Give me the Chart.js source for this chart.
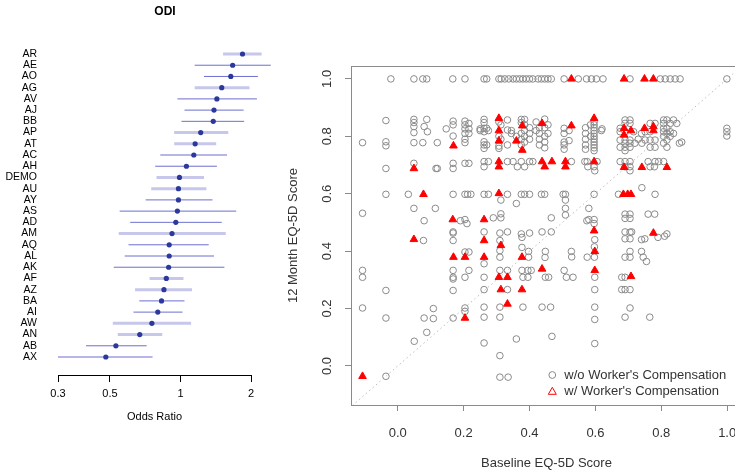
<!DOCTYPE html>
<html><head><meta charset="utf-8">
<script src="https://cdn.jsdelivr.net/npm/chart.js@4"></script>
<style>
html,body{margin:0;padding:0;background:#fff;overflow:hidden;width:735px;height:472px;position:relative;}
#left{position:absolute;left:0;top:0;width:300px;height:472px;}
#right{position:absolute;left:270px;top:0;width:490px;height:472px;}
</style></head><body>
<canvas id="left" width="300" height="472"></canvas>
<canvas id="right" width="490" height="472"></canvas>
<script>
// ---------- Forest plot data (ODI) ----------
const odiLabels = ['AR','AE','AO','AG','AV','AJ','BB','AP','AT','AC','AH','DEMO','AU','AY','AS','AD','AM','AQ','AL','AK','AF','AZ','BA','AI','AW','AN','AB','AX'];
const odiEstimate = [1.84,1.67,1.64,1.50,1.43,1.39,1.38,1.22,1.155,1.14,1.06,0.99,0.98,0.98,0.97,0.955,0.92,0.895,0.895,0.89,0.87,0.85,0.83,0.80,0.755,0.67,0.53,0.48];
const odiLower = [1.52,1.15,1.26,1.15,0.97,1.04,1.01,0.94,0.94,0.82,0.78,0.79,0.75,0.71,0.55,0.61,0.545,0.60,0.578,0.519,0.738,0.64,0.667,0.63,0.514,0.54,0.395,0.30];
const odiUpper = [2.22,2.43,2.14,1.97,2.12,1.86,1.87,1.60,1.42,1.58,1.43,1.26,1.29,1.37,1.73,1.50,1.56,1.32,1.39,1.54,1.03,1.12,1.04,1.02,1.11,0.836,0.717,0.76];
const odiGroup = [1,0,0,1,0,0,0,1,1,0,0,1,1,0,0,0,1,0,0,0,1,1,0,0,1,1,0,0];
const oddsTicks = [0.3,0.5,1,2];

// ---------- Scatter data (Baseline vs 12 month EQ-5D) ----------
const eqTicks = [0,0.2,0.4,0.6,0.8,1.0];
const woComp = [
[-0.021,1],[0.049,1],[0.076,1],[0.088,1],[0.167,1],[0.204,1],
[-0.036,0.855],[0.049,0.859],[0.049,0.848],[0.049,0.834],[0.049,0.813],[0.088,0.859],[0.080,0.834],[0.090,0.816],[0.147,0.826],[0.168,0.853],[0.168,0.840],[0.168,0.801],[0.204,0.853],[0.204,0.840],[0.204,0.826],[0.204,0.81],[0.204,0.79],[0.216,0.845],[0.216,0.826],[0.216,0.81],[0.25,0.826],
[-0.107,0.778],[-0.036,0.781],[-0.036,0.767],[0.049,0.778],[0.076,0.778],[0.12,0.778],[0.204,0.778],
[-0.036,0.688],[0.049,0.706],[0.116,0.688],[0.12,0.688],[0.168,0.706],[0.168,0.688],[0.204,0.706],[0.216,0.706],
[-0.036,0.598],[0.032,0.598],[0.168,0.598],[0.204,0.598],[0.212,0.598],[0.222,0.598],
[-0.107,0.532],[0.049,0.549],[0.114,0.549],[0.08,0.506],[0.19,0.506],[0.204,0.51],[0.21,0.496],[0.168,0.467],
[0.078,0.437],[0.168,0.463],[0.168,0.437],[0.204,0.397],[0.216,0.397],
[-0.107,0.333],[-0.107,0.309],[0.168,0.333],[0.168,0.309],[0.168,0.303],[0.168,0.263],[0.204,0.309],[0.216,0.333],
[-0.036,0.263],[-0.107,0.202],[-0.036,0.167],[0.08,0.167],[0.108,0.165],[0.108,0.2],[0.168,0.167],[0.204,0.202],[0.204,0.19],[0.088,0.117],[0.05,0.086],[-0.036,-0.036],
[0.262,1],[0.27,1],[0.307,1],[0.314,1],[0.325,1],[0.337,1],[0.35,1],[0.36,1],[0.37,1],[0.38,1],[0.39,1],[0.40,1],[0.41,1],[0.426,1],[0.436,1],[0.446,1],[0.456,1],[0.466,1],[0.505,1],[0.548,1],[0.573,1],[0.588,1],[0.603,1],[0.623,1],
[0.705,1],[0.797,1],[0.812,1],[0.827,1],[0.842,1],[0.857,1],[0.999,1],
[0.262,0.859],[0.262,0.848],[0.262,0.828],[0.262,0.816],[0.262,0.781],[0.262,0.77],[0.262,0.758],[0.27,0.828],[0.27,0.77],[0.25,0.82],[0.275,0.82],
[0.307,0.85],[0.307,0.80],[0.307,0.766],[0.307,0.758],[0.313,0.84],[0.313,0.79],[0.333,0.857],[0.333,0.822],[0.333,0.77],[0.345,0.82],[0.345,0.81],[0.36,0.80],
[0.375,0.859],[0.375,0.848],[0.375,0.81],[0.375,0.79],[0.375,0.77],[0.385,0.859],[0.385,0.84],[0.385,0.82],[0.385,0.80],[0.385,0.78],[0.40,0.83],[0.40,0.81],[0.40,0.79],
[0.42,0.85],[0.42,0.82],[0.43,0.83],[0.43,0.81],[0.43,0.79],[0.43,0.77],[0.446,0.86],[0.446,0.83],[0.446,0.80],[0.446,0.78],[0.446,0.76],[0.456,0.84],[0.456,0.81],
[0.505,0.828],[0.505,0.81],[0.505,0.78],[0.505,0.77],[0.505,0.755],[0.52,0.82],[0.52,0.785],
[0.57,0.83],[0.57,0.81],[0.57,0.79],[0.57,0.77],[0.57,0.755],[0.585,0.84],[0.585,0.80],
[0.596,0.85],[0.596,0.84],[0.596,0.83],[0.596,0.82],[0.596,0.81],[0.596,0.80],[0.596,0.79],[0.596,0.78],[0.596,0.77],[0.596,0.76],[0.596,0.75],[0.618,0.82],[0.62,0.826],
[0.262,0.712],[0.275,0.712],[0.262,0.694],[0.333,0.712],[0.35,0.712],[0.363,0.694],[0.375,0.712],[0.385,0.694],[0.40,0.712],[0.41,0.712],[0.527,0.712],[0.568,0.712],[0.575,0.712],[0.596,0.694],[0.605,0.712],[0.577,0.694],[0.598,0.68],
[0.262,0.598],[0.275,0.598],[0.333,0.598],[0.375,0.598],[0.385,0.598],[0.40,0.598],[0.436,0.598],[0.446,0.598],[0.502,0.598],[0.509,0.598],[0.596,0.598],[0.67,0.598],[0.781,0.598],[0.741,0.621],
[0.313,0.578],[0.36,0.566],[0.509,0.578],[0.509,0.549],[0.509,0.526],[0.58,0.549],[0.313,0.53],[0.313,0.516],[0.29,0.516],[0.466,0.516],[0.58,0.51],[0.596,0.51],[0.596,0.496],[0.574,0.506],
[0.262,0.467],[0.333,0.467],[0.375,0.46],[0.40,0.463],[0.438,0.467],[0.466,0.467],[0.31,0.463],
[0.262,0.356],[0.262,0.309],[0.262,0.266],[0.262,0.205],[0.262,0.17],
[0.31,0.437],[0.31,0.402],[0.31,0.379],[0.31,0.333],[0.31,0.205],[0.31,0.17],[0.333,0.333],[0.333,0.266],
[0.377,0.448],[0.377,0.413],[0.397,0.399],[0.397,0.379],[0.377,0.333],[0.395,0.333],[0.405,0.333],[0.38,0.309],[0.395,0.309],
[0.448,0.399],[0.447,0.378],[0.527,0.399],[0.528,0.38],[0.575,0.379],[0.448,0.309],[0.458,0.309],[0.505,0.333],[0.512,0.309],[0.532,0.309],
[0.38,0.205],[0.438,0.205],[0.464,0.205],
[0.598,0.44],[0.597,0.415],[0.597,0.379],[0.598,0.309],[0.598,0.266],[0.598,0.205],[0.598,0.162],[0.598,0.078],
[0.262,0.08],[0.36,0.094],[0.468,0.103],[0.31,0.036],[0.31,-0.039],[0.335,-0.039],
[0.705,0.466],[0.69,0.443],[0.705,0.443],[0.74,0.44],[0.75,0.443],[0.79,0.448],[0.81,0.452],[0.69,0.379],[0.705,0.379],[0.705,0.399],[0.74,0.399],[0.745,0.379],[0.755,0.364],
[0.68,0.309],[0.69,0.309],[0.68,0.266],[0.69,0.266],[0.705,0.266],[0.705,0.202],[0.69,0.17],[0.765,0.17],
[0.675,0.828],[0.675,0.816],[0.69,0.857],[0.69,0.845],[0.69,0.816],[0.69,0.787],[0.69,0.776],[0.69,0.762],[0.69,0.75],[0.705,0.857],[0.705,0.845],[0.705,0.787],[0.705,0.776],[0.705,0.762],[0.716,0.816],[0.675,0.787],[0.675,0.762],[0.72,0.776],
[0.741,0.776],[0.751,0.816],[0.751,0.787],[0.766,0.845],[0.766,0.816],[0.766,0.787],[0.766,0.762],[0.781,0.845],[0.781,0.787],[0.781,0.762],[0.74,0.81],[0.73,0.79],
[0.807,0.857],[0.807,0.845],[0.807,0.828],[0.807,0.816],[0.807,0.80],[0.817,0.857],[0.817,0.828],[0.817,0.81],[0.817,0.787],[0.827,0.845],[0.827,0.816],[0.827,0.80],[0.837,0.857],[0.837,0.81],[0.847,0.845],[0.817,0.762],[0.807,0.776],[0.862,0.78],[0.855,0.776],
[0.999,0.828],[0.999,0.816],[0.999,0.801],
[0.675,0.712],[0.69,0.712],[0.705,0.712],[0.705,0.694],[0.69,0.694],[0.705,0.68],[0.76,0.712],[0.781,0.712],[0.792,0.712],[0.766,0.694],[0.779,0.694],[0.807,0.712],
[0.69,0.529],[0.705,0.529],[0.69,0.514],[0.705,0.514],[0.76,0.529],[0.78,0.529],[0.69,0.467],[0.71,0.467],[0.817,0.46]
];
const wComp = [
[0.169,0.767],[0.049,0.688],[0.078,0.598],[0.167,0.51],[0.049,0.441],[0.169,0.379],[0.204,0.379],[0.204,0.167],[-0.107,-0.036],
[0.527,1],[0.687,1],[0.749,1],[0.776,1],
[0.307,0.863],[0.307,0.82],[0.307,0.784],[0.36,0.784],[0.378,0.837],[0.378,0.752],[0.438,0.845],[0.527,0.837],[0.596,0.863],
[0.687,0.828],[0.708,0.82],[0.749,0.828],[0.776,0.834],[0.776,0.82],[0.687,0.805],
[0.307,0.712],[0.307,0.694],[0.438,0.712],[0.446,0.694],[0.468,0.712],[0.509,0.712],[0.509,0.694],[0.596,0.712],
[0.687,0.692],[0.741,0.692],[0.817,0.692],
[0.307,0.601],[0.685,0.598],[0.698,0.598],[0.708,0.598],
[0.262,0.51],[0.596,0.471],[0.776,0.463],
[0.262,0.437],[0.313,0.42],[0.262,0.379],[0.377,0.379],[0.438,0.338],[0.598,0.399],[0.598,0.333],[0.307,0.309],[0.333,0.309],[0.313,0.266],[0.377,0.266],[0.333,0.216],[0.708,0.312]
];

const FONT = "'Liberation Sans', Arial, sans-serif";

// ---------- Left chart: forest plot ----------
function ciSegments(g){
  const d = [];
  odiLabels.forEach((_, i) => {
    if (odiGroup[i] === g) {
      d.push({x: odiLower[i], y: i}, {x: odiUpper[i], y: i}, {x: odiUpper[i], y: null});
    }
  });
  return d;
}
const leftTitle = {
  id: 'leftTitle',
  afterDraw(chart){
    const ctx = chart.ctx;
    ctx.save();
    ctx.font = 'bold 12px ' + FONT;
    ctx.fillStyle = '#000';
    ctx.textAlign = 'center';
    ctx.textBaseline = 'middle';
    ctx.fillText('ODI', 165, 12);
    ctx.restore();
  }
};
new Chart(document.getElementById('left'), {
  type: 'scatter',
  data: {
    datasets: [
      {data: odiEstimate.map((v, i) => ({x: v, y: i})), pointRadius: 2.6, pointBackgroundColor: '#2b399c', pointBorderWidth: 0, showLine: false, clip: false},
      {data: ciSegments(0), showLine: true, spanGaps: false, borderColor: '#6d6fcf', borderWidth: 1, pointRadius: 0, clip: false},
      {data: ciSegments(1), showLine: true, spanGaps: false, borderColor: '#c6c7ea', borderWidth: 3, pointRadius: 0, clip: false}
    ]
  },
  options: {
    responsive: false, animation: false, devicePixelRatio: 1,
    layout: {padding: {left: 0, top: 48.4, right: 49, bottom: 0}},
    plugins: {legend: {display: false}, tooltip: {enabled: false}, title: {display: false}},
    scales: {
      x: {
        type: 'logarithmic', min: 0.3, max: 2,
        afterBuildTicks: s => { s.ticks = oddsTicks.map(v => ({value: v})); },
        afterFit: s => { s.height = 97; },
        ticks: {callback: v => String(v), autoSkip: false, maxRotation: 0, padding: 5, color: '#000', font: {family: FONT, size: 11}},
        grid: {drawOnChartArea: false, drawTicks: true, tickLength: 7, color: '#000'},
        border: {display: true, color: '#000', width: 1},
        title: {display: true, text: 'Odds Ratio', color: '#000', font: {family: FONT, size: 11}, padding: {top: 0, bottom: 48}}
      },
      y: {
        type: 'linear', reverse: true, min: -0.5, max: 28.604,
        afterBuildTicks: s => { s.ticks = odiLabels.map((_, i) => ({value: i})); },
        afterFit: s => { s.width = 58; },
        ticks: {callback: v => odiLabels[v], autoSkip: false, padding: 21, color: '#000', font: {family: FONT, size: 10.5}},
        grid: {display: false, drawTicks: false},
        border: {display: false}
      }
    }
  },
  plugins: [leftTitle]
});

// ---------- Right chart: scatter ----------
const rightDecor = {
  id: 'rightDecor',
  afterDraw(chart){
    const ctx = chart.ctx, a = chart.chartArea, ys = chart.scales.y;
    ctx.save();
    ctx.strokeStyle = '#8a8a8a';
    ctx.lineWidth = 1;
    ctx.strokeRect(a.left + 0.5, a.top + 0.5, a.right - a.left, a.bottom - a.top);
    ctx.fillStyle = '#333';
    ctx.font = '13px ' + FONT;
    ctx.textAlign = 'center';
    ctx.textBaseline = 'middle';
    eqTicks.forEach(v => {
      const py = ys.getPixelForValue(v);
      ctx.save();
      ctx.translate(57.5, py);
      ctx.rotate(-Math.PI / 2);
      ctx.fillText(v.toFixed(1), 0, 0);
      ctx.restore();
    });
    // legend
    const lx = 282.3;
    ctx.strokeStyle = '#8a8a8a';
    ctx.beginPath(); ctx.arc(lx, 375, 3.4, 0, Math.PI * 2); ctx.stroke();
    ctx.strokeStyle = '#ff0000';
    ctx.beginPath();
    ctx.moveTo(lx, 387.3); ctx.lineTo(lx + 4, 394.3); ctx.lineTo(lx - 4, 394.3); ctx.closePath(); ctx.stroke();
    ctx.fillStyle = '#333';
    ctx.textAlign = 'left';
    ctx.fillText("w/o Worker's Compensation", 294.3, 375);
    ctx.fillText("w/ Worker's Compensation", 294.3, 391.5);
    ctx.restore();
  }
};
new Chart(document.getElementById('right'), {
  type: 'scatter',
  data: {
    datasets: [
      {data: wComp.map(p => ({x: p[0], y: p[1]})), pointStyle: 'triangle', pointRadius: 4.4, pointBackgroundColor: '#ff0000', pointBorderColor: '#ff0000', pointBorderWidth: 1},
      {data: woComp.map(p => ({x: p[0], y: p[1]})), pointStyle: 'circle', pointRadius: 3.3, pointBackgroundColor: 'rgba(0,0,0,0)', pointBorderColor: '#8a8a8a', pointBorderWidth: 1},
      {data: [{x: -0.2, y: -0.2}, {x: 1.2, y: 1.2}], showLine: true, borderColor: '#bdbdbd', borderWidth: 1, borderDash: [1.5, 3], pointRadius: 0}
    ]
  },
  options: {
    responsive: false, animation: false, devicePixelRatio: 1,
    layout: {padding: {left: 0, top: 66, right: 18, bottom: 0}},
    plugins: {legend: {display: false}, tooltip: {enabled: false}},
    scales: {
      x: {
        type: 'linear', min: -0.142, max: 1.045,
        afterBuildTicks: s => { s.ticks = eqTicks.map(v => ({value: v})); },
        afterFit: s => { s.height = 67; },
        ticks: {callback: v => v.toFixed(1), autoSkip: false, maxRotation: 0, padding: 15, color: '#333', font: {family: FONT, size: 13}},
        grid: {drawOnChartArea: false, drawTicks: true, tickLength: 6, color: '#8a8a8a'},
        border: {display: true, color: '#8a8a8a', width: 1},
        title: {display: true, text: 'Baseline EQ-5D Score', color: '#333', font: {family: FONT, size: 13}, padding: {top: 0, bottom: 1.2}}
      },
      y: {
        type: 'linear', min: -0.136, max: 1.045,
        afterBuildTicks: s => { s.ticks = eqTicks.map(v => ({value: v})); },
        afterFit: s => { s.width = 81; },
        ticks: {display: false},
        grid: {drawOnChartArea: false, drawTicks: true, tickLength: 6, color: '#8a8a8a'},
        border: {display: true, color: '#8a8a8a', width: 1},
        title: {display: true, text: '12 Month EQ-5D Score', color: '#333', font: {family: FONT, size: 13}, padding: {top: 15.2, bottom: 0}}
      }
    }
  },
  plugins: [rightDecor]
});
</script>
</body></html>
